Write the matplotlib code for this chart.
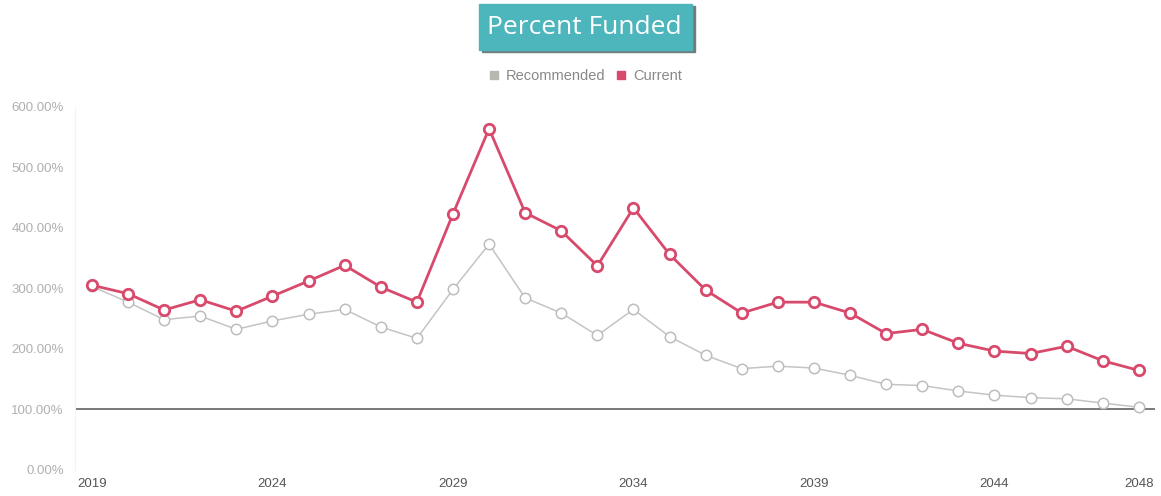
import matplotlib
matplotlib.use("Agg")
import matplotlib.pyplot as plt
from matplotlib.patches import Rectangle
from matplotlib.lines import Line2D

# Funding ratio by year
years = list(range(2019, 2049))
recommended = [303, 277, 248, 254, 232, 246, 257, 265, 236, 217,
               298, 373, 284, 259, 222, 265, 220, 189, 167, 171,
               168, 156, 141, 139, 130, 123, 119, 117, 110, 103]
current = [305, 291, 264, 281, 262, 287, 312, 338, 302, 277,
           423, 564, 425, 395, 337, 433, 356, 297, 259, 277,
           277, 259, 225, 232, 209, 196, 192, 204, 180, 164]
xtick_years = [2019, 2024, 2029, 2034, 2039, 2044, 2048]
ytick_vals = [0, 100, 200, 300, 400, 500, 600]

red = "#d84a6c"
grey = "#c4c4c4"

fig = plt.figure(figsize=(11.61, 4.96), dpi=100)
ax = fig.add_axes([0.0646, 0.0534, 0.930, 0.7309])

ax.plot(years, recommended, color=grey, lw=1.1, marker="o", ms=7.5,
        mfc="white", mec="#bdbdbd", mew=1.1, zorder=3)
ax.plot(years, current, color=red, lw=2, marker="o", ms=7.5,
        mfc="white", mec=red, mew=2, zorder=4)

# 100% reference line
ax.axhline(100, color="#555555", lw=1.1, zorder=2)
ax.axhline(0, color="#e6e6e6", lw=0.8, ls=(0, (2, 6)), zorder=1)

ax.set_xlim(2018.53, 2048.44)
ax.set_ylim(0, 600)
ax.set_xticks(xtick_years)
ax.set_xticklabels([str(y) for y in xtick_years], fontsize=9.5,
                   color="#555555", family="Liberation Sans")
ax.set_yticks(ytick_vals)
ax.set_yticklabels([f"{v:.2f}%" for v in ytick_vals], fontsize=9.5,
                   color="#b0b0b0", family="Liberation Sans")
ax.tick_params(length=0, pad=6)
ax.tick_params(axis="y", pad=8)
for s in ax.spines.values():
    s.set_visible(False)
ax.spines["left"].set_visible(True)
ax.spines["left"].set_color("#f2f2f2")

# Title badge with a drop shadow
fig.patches.append(Rectangle((482 / 1161, 1 - 52 / 496), 213 / 1161, 46 / 496,
                             transform=fig.transFigure, color="#6f7f80", zorder=1))
fig.patches.append(Rectangle((479 / 1161, 1 - 50 / 496), 213 / 1161, 46 / 496,
                             transform=fig.transFigure, color="#4db5bc", zorder=2))
fig.text(584 / 1161, 1 - 27 / 496, "Percent Funded", ha="center", va="center",
         fontsize=19, color="white", family="Open Sans", zorder=3)

handles = [Line2D([], [], ls="none", marker="s", ms=6, color="#b8b8b0"),
           Line2D([], [], ls="none", marker="s", ms=6, color=red)]
fig.legend(handles, ["Recommended", "Current"], loc="center",
           bbox_to_anchor=(585 / 1161, 1 - 76 / 496), ncol=2, frameon=False,
           handlelength=0.8, handletextpad=0.4, columnspacing=0.7,
           prop={"family": "Liberation Sans", "size": 10.5}, labelcolor="#888888")

fig.savefig("out.png", dpi=100)
